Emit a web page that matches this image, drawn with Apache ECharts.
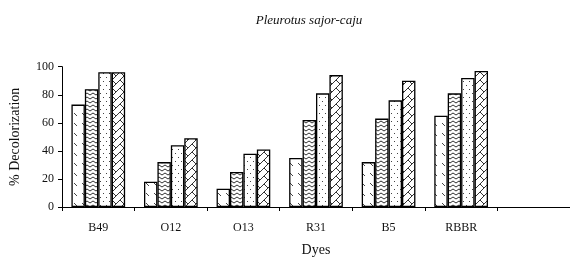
<!DOCTYPE html>
<html>
<head>
<meta charset="utf-8">
<script src="https://cdn.jsdelivr.net/npm/echarts@6/dist/echarts.min.js"></script>
<style>
  html, body { margin: 0; padding: 0; background: #fff; }
  #chart { width: 570px; height: 262px; }
</style>
</head>
<body>
<div id="chart"></div>
<script>
// dyes on the x axis (last slot left empty as in the original)
const dyes = ["B49", "O12", "O13", "R31", "B5", "RBBR", ""];
// % decolorization, four bars per dye
const barA = [73, 18, 13, 35, 32, 65];
const barB = [84, 32, 25, 62, 63, 81];
const barC = [96, 44, 38, 81, 76, 92];
const barD = [96, 49, 41, 94, 90, 97];
const yTicks = [0, 20, 40, 60, 80, 100];

const serif = "'Liberation Serif', 'Times New Roman', serif";

function makePattern(kind) {
  const c = document.createElement("canvas");
  const ctx = c.getContext("2d");
  if (kind === "dash") {
    c.width = 8; c.height = 10;
    ctx.fillStyle = "#fff"; ctx.fillRect(0, 0, 8, 10);
    ctx.strokeStyle = "#444"; ctx.lineWidth = 1;
    ctx.beginPath(); ctx.moveTo(2, 3); ctx.lineTo(5, 6); ctx.stroke();
  } else if (kind === "wave") {
    c.width = 6; c.height = 4;
    ctx.fillStyle = "#fff"; ctx.fillRect(0, 0, 6, 4);
    ctx.strokeStyle = "#333"; ctx.lineWidth = 1;
    ctx.beginPath(); ctx.moveTo(0, 3); ctx.lineTo(3, 1); ctx.lineTo(6, 3); ctx.stroke();
  } else if (kind === "dot") {
    c.width = 6; c.height = 8;
    ctx.fillStyle = "#fff"; ctx.fillRect(0, 0, 6, 8);
    ctx.fillStyle = "#444";
    ctx.fillRect(1, 1, 1, 1);
    ctx.fillRect(4, 5, 1, 1);
  } else {
    c.width = 8; c.height = 8;
    ctx.fillStyle = "#fff"; ctx.fillRect(0, 0, 8, 8);
    ctx.strokeStyle = "#333"; ctx.lineWidth = 1;
    ctx.beginPath();
    ctx.moveTo(0, 8); ctx.lineTo(8, 0);
    ctx.moveTo(0, 0); ctx.lineTo(4, 4);
    ctx.stroke();
  }
  return { image: c, repeat: "repeat" };
}

function barSeries(values, kind) {
  return {
    type: "bar",
    data: values,
    barGap: "0%",
    barCategoryGap: "26%",
    itemStyle: {
      color: makePattern(kind),
      borderColor: "#000",
      borderWidth: 1.3
    }
  };
}

const chart = echarts.init(document.getElementById("chart"));
chart.setOption({
  animation: false,
  textStyle: { fontFamily: serif },
  title: {
    text: "Pleurotus sajor-caju",
    left: 304,
    textAlign: "center",
    top: 9,
    textStyle: { fontFamily: serif, fontStyle: "italic", fontWeight: "normal", fontSize: 13, color: "#111" }
  },
  grid: { left: 58, top: 66.7, bottom: 51.3, width: 525, containLabel: false },
  xAxis: {
    type: "category",
    data: dyes,
    name: "Dyes",
    nameLocation: "middle",
    nameGap: 36,
    nameTextStyle: { fontFamily: serif, fontSize: 14, color: "#111", align: "center" },
    axisLine: { lineStyle: { color: "#000", width: 1 } },
    axisTick: { show: true, length: 4, lineStyle: { color: "#000" } },
    axisLabel: { color: "#111", fontFamily: serif, fontSize: 12, margin: 15 }
  },
  yAxis: {
    type: "value",
    min: 0,
    max: 100,
    interval: 20,
    name: "% Decolorization",
    nameLocation: "middle",
    nameGap: 40,
    nameTextStyle: { fontFamily: serif, fontSize: 14, color: "#111" },
    axisLine: { show: true, lineStyle: { color: "#000", width: 1 } },
    axisTick: { show: true, length: 4, lineStyle: { color: "#000" } },
    axisLabel: {
      color: "#111", fontFamily: serif, fontSize: 12, margin: 8,
      formatter: (v) => (yTicks.includes(v) ? String(v) : "")
    },
    splitLine: { show: false }
  },
  series: [
    barSeries(barA, "dash"),
    barSeries(barB, "wave"),
    barSeries(barC, "dot"),
    barSeries(barD, "cross")
  ]
});
</script>
</body>
</html>
